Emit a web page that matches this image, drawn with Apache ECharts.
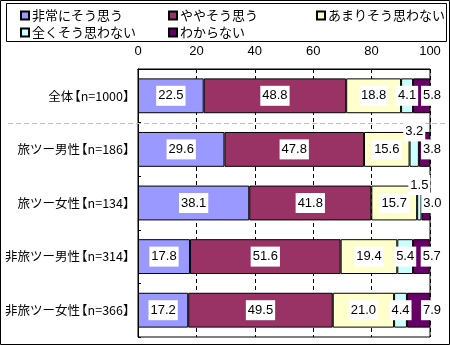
<!DOCTYPE html>
<html>
<head>
<meta charset="utf-8">
<script src="https://cdn.jsdelivr.net/npm/echarts@6/dist/echarts.min.js"></script>
<style>
  html, body { margin: 0; padding: 0; background: #fff; }
  #chart { width: 450px; height: 345px; }
</style>
</head>
<body>
<div id="chart"></div>
<script>
// Survey groups (top to bottom)
const categories = ['全体【n=1000】', '旅ツー男性【n=186】', '旅ツー女性【n=134】', '非旅ツー男性【n=314】', '非旅ツー女性【n=366】'];

// Answer shares (%) per response
const seriesNames = ['非常にそう思う', 'ややそう思う', 'あまりそう思わない', '全くそう思わない', 'わからない'];
const strongYes = [22.5, 29.6, 38.1, 17.8, 17.2];
const someYes   = [48.8, 47.8, 41.8, 51.6, 49.5];
const someNo    = [18.8, 15.6, 15.7, 19.4, 21.0];
const strongNo  = [4.1, 3.2, 1.5, 5.4, 4.4];
const unknown   = [5.8, 3.8, 3.0, 5.7, 7.9];

const xTicks = [0, 20, 40, 60, 80, 100];

const colors = ['#9999FF', '#993366', '#FFFFCC', '#CCFFFF', '#660066'];
const valueSets = [strongYes, someYes, someNo, strongNo, unknown];

const numFont = 'Liberation Sans';
const jpFont = 'Noto Sans CJK JP';
const catFontSize = 12.5;

const baseLabel = {
  show: true,
  position: 'inside',
  color: '#000',
  fontSize: 13,
  fontFamily: numFont,
  backgroundColor: '#fff',
  padding: [4, 2, 3, 2],
  formatter: p => p.value.toFixed(1)
};

const series = valueSets.map((vals, si) => ({
  name: seriesNames[si],
  type: 'bar',
  stack: 'total',
  barCategoryGap: '35%',
  itemStyle: { color: colors[si], borderColor: '#000', borderWidth: 1 },
  label: baseLabel,
  data: vals.map(v => {
    const item = { value: v };
    if (si === 4) {
      // last segment: label pushed toward the right edge
      item.label = { position: 'right', distance: 0, offset: [-9, 0] };
    } else if (si === 3 && v < 4) {
      // thin segments: label raised above the bar
      item.label = { position: 'inside', offset: [0, -18] };
    }
    return item;
  })
}));

// Legend laid out as a 3-column grid
const legendSlots = [
  { left: 20, top: 9 }, { left: 168, top: 9 }, { left: 316, top: 9 },
  { left: 20, top: 26 }, { left: 168, top: 26 }
];
const legends = seriesNames.map((n, i) => ({
  data: [n],
  left: legendSlots[i].left,
  top: legendSlots[i].top,
  padding: 0,
  icon: 'rect',
  itemWidth: 8,
  itemHeight: 8,
  itemGap: 0,
  selectedMode: false,
  textStyle: { color: '#000', fontSize: 13, fontFamily: jpFont, padding: [0, 0, 0, -2] }
}));

// Compact lenticular brackets in the category labels: tokens are laid out
// left to right; the group name gets a shorter advance so the opening bracket
// tucks in, and the closing bracket gets a half-width advance.
const measureCtx = document.createElement('canvas').getContext('2d');
measureCtx.font = catFontSize + 'px "' + jpFont + '"';
const catText = { fontSize: catFontSize, fontFamily: jpFont, color: '#000', align: 'left' };
const catRich = { t: catText, rb: Object.assign({}, catText, { width: 7 }) };
categories.forEach((c, i) => {
  const head = c.split('【')[0];
  catRich['h' + i] = Object.assign({}, catText, { width: measureCtx.measureText(head).width - 5 });
});
function catFormatter(s) {
  const m = s.match(/^(.*)【(.*)】$/);
  if (!m) return s;
  const i = categories.indexOf(s);
  return '{h' + i + '|' + m[1] + '}{t|【' + m[2] + '}{rb|】}';
}

const chart = echarts.init(document.getElementById('chart'), null, { renderer: 'canvas' });

chart.setOption({
  animation: false,
  backgroundColor: '#fff',
  legend: legends,
  grid: {
    left: 138, right: 20, top: 69, bottom: 8,
    containLabel: false, outerBoundsMode: 'none',
    show: true, borderColor: '#000', borderWidth: 1, backgroundColor: '#fff'
  },
  xAxis: {
    type: 'value',
    position: 'top',
    min: xTicks[0],
    max: xTicks[xTicks.length - 1],
    interval: 20,
    axisLine: { show: true, lineStyle: { color: '#000', width: 1 } },
    axisTick: { show: false },
    axisLabel: { color: '#000', fontSize: 13, fontFamily: numFont, margin: 11 },
    splitLine: { show: true, lineStyle: { color: '#000', width: 1, type: [4, 3] } }
  },
  yAxis: {
    type: 'category',
    inverse: true,
    data: categories,
    axisLine: { show: true, lineStyle: { color: '#000', width: 1 } },
    axisTick: { show: true, inside: true, length: 3, lineStyle: { color: '#000' } },
    axisLabel: {
      color: '#000', fontSize: catFontSize, fontFamily: jpFont, margin: 8,
      formatter: catFormatter, rich: catRich
    },
    splitLine: { show: false }
  },
  series: series
});

// Separator between the total row and the group rows, plus frames
const y0 = chart.convertToPixel({ yAxisIndex: 0 }, categories[0]);
const y1 = chart.convertToPixel({ yAxisIndex: 0 }, categories[1]);
const sepY = Math.round((y0 + y1) / 2) + 0.5;

chart.setOption({
  graphic: [
    {
      type: 'rect',
      shape: { x: 6.5, y: 3.5, width: 440, height: 38 },
      style: { fill: 'none', stroke: '#000', lineWidth: 1 },
      z: 10
    },
    {
      type: 'line',
      shape: { x1: 8, y1: sepY, x2: 445, y2: sepY },
      style: { stroke: '#c0c0c0', lineWidth: 1, lineDash: [5, 3] },
      z: 1
    },
    {
      type: 'rect',
      shape: { x: 0.5, y: 0.5, width: 449, height: 344 },
      style: { fill: 'none', stroke: '#000', lineWidth: 1 },
      z: 10
    }
  ]
});
</script>
</body>
</html>
